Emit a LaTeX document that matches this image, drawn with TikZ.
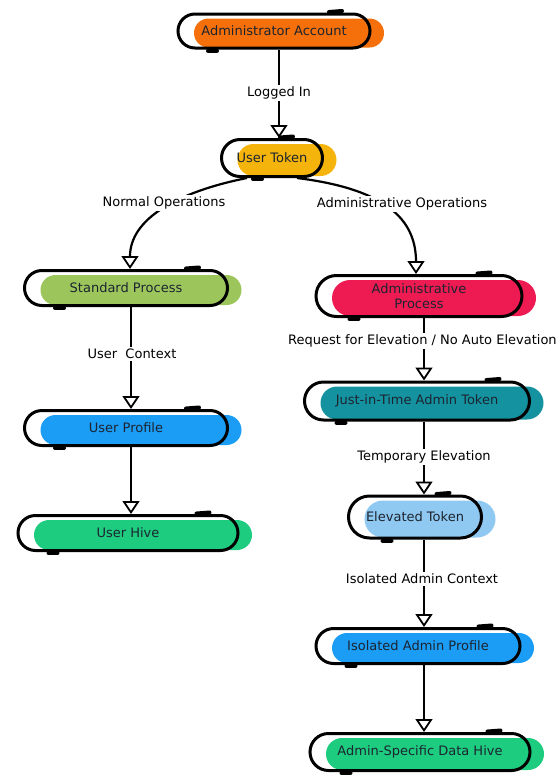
\documentclass[tikz,border=0pt]{standalone}
\usepackage{fontspec}
\setmainfont{DejaVu Sans}
\usetikzlibrary{arrows.meta,shapes.misc,calc}
\definecolor{cOrange}{HTML}{F5700A}
\definecolor{cYellow}{HTML}{F5B40C}
\definecolor{cLime}{HTML}{9CC65C}
\definecolor{cCrimson}{HTML}{EE1B52}
\definecolor{cTeal}{HTML}{14929F}
\definecolor{cSky}{HTML}{8FC8F0}
\definecolor{cBlue}{HTML}{1B9CF5}
\definecolor{cMint}{HTML}{1ECC80}
\definecolor{cText}{HTML}{1C2430}
\tikzset{
  outline/.style={rounded rectangle, draw=black, line width=3pt, inner sep=0pt,
    font=\fontsize{13}{15}\selectfont, text=cText, align=center},
  blob/.style={rounded rectangle, inner sep=0pt, draw=none},
  edge/.style={line width=2.2pt, draw=black, -{Triangle[open, length=13pt, width=17pt, line width=1.8pt]}},
  lbl/.style={fill=white, inner sep=2pt, font=\fontsize{13}{15}\selectfont, text=black},
  scribble/.style={line width=4pt, line cap=round},
}
% #1 name, #2 cx, #3 cy, #4 w, #5 h, #6 color, #7 text
\newcommand\skbox[7]{%
  \node[blob, fill=#6, minimum width={#4-2}, minimum height={#5-5}] at ({#2+15},{#3+2}) {};
  \node[outline, minimum width=#4, minimum height=#5] (#1) at (#2,#3) {#7};
  \draw[scribble] ([xshift=-24pt,yshift=0.5pt]#1.north east) -- ++(13pt,1pt);
  \draw[scribble] ([xshift=13pt,yshift=-1pt]#1.south west) -- ++(9pt,0pt);
}
\begin{document}
\begin{tikzpicture}[x=1pt,y=-1pt]
\useasboundingbox (0,0) rectangle (558,782);
\skbox{aa}{274}{31}{192}{34}{cOrange}{Administrator Account}
\skbox{ut}{272}{158}{101}{37}{cYellow}{User Token}
\skbox{sp}{126}{288}{203}{35}{cLime}{Standard Process}
\skbox{ap}{419}{296}{206}{41}{cCrimson}{Administrative\\Process}
\skbox{jit}{417}{401}{225}{38}{cTeal}{Just-in-Time Admin Token}
\skbox{et}{415}{517}{133}{42}{cSky}{Elevated Token}
\skbox{up}{126}{428}{203}{35}{cBlue}{User Profile}
\skbox{uh}{128}{533}{220}{35}{cMint}{User Hive}
\skbox{iap}{418}{646}{204}{35}{cBlue}{Isolated Admin Profile}
\skbox{adh}{420}{752}{220}{37}{cMint}{Admin-Specific Data Hive}

\draw[edge] ([xshift=5pt]aa.south) -- ([xshift=7pt]ut.north);
\draw[edge] ([xshift=-25pt]ut.south) .. controls +(-70,14) and +(0,-50) .. ([xshift=4pt]sp.north);
\draw[edge] ([xshift=25pt]ut.south) .. controls +(80,10) and +(0,-60) .. ([xshift=-3pt]ap.north);
\draw[edge] ([xshift=5pt]sp.south) -- ([xshift=5pt]up.north);
\draw[edge] ([xshift=5pt]up.south) -- ([xshift=3pt]uh.north);
\draw[edge] ([xshift=5pt]ap.south) -- ([xshift=7pt]jit.north);
\draw[edge] ([xshift=7pt]jit.south) -- ([xshift=9pt]et.north);
\draw[edge] ([xshift=9pt]et.south) -- ([xshift=6pt]iap.north);
\draw[edge] ([xshift=6pt]iap.south) -- ([xshift=4pt]adh.north);

\node[lbl] (l1) at (279,93) {Logged In};
\node[lbl] (l2) at (164,203) {Normal Operations};
\node[lbl] (l3) at (402,204) {Administrative Operations};
\node[lbl] (l4) at (132,354) {User\ \ Context};
\node[lbl, anchor=west] (l5) at (286,341) {Request for Elevation / No Auto Elevation};
\node[lbl] (l6) at (424,457) {Temporary Elevation};
\node[lbl] (l7) at (422,579) {Isolated Admin Context};
\end{tikzpicture}
\end{document}
